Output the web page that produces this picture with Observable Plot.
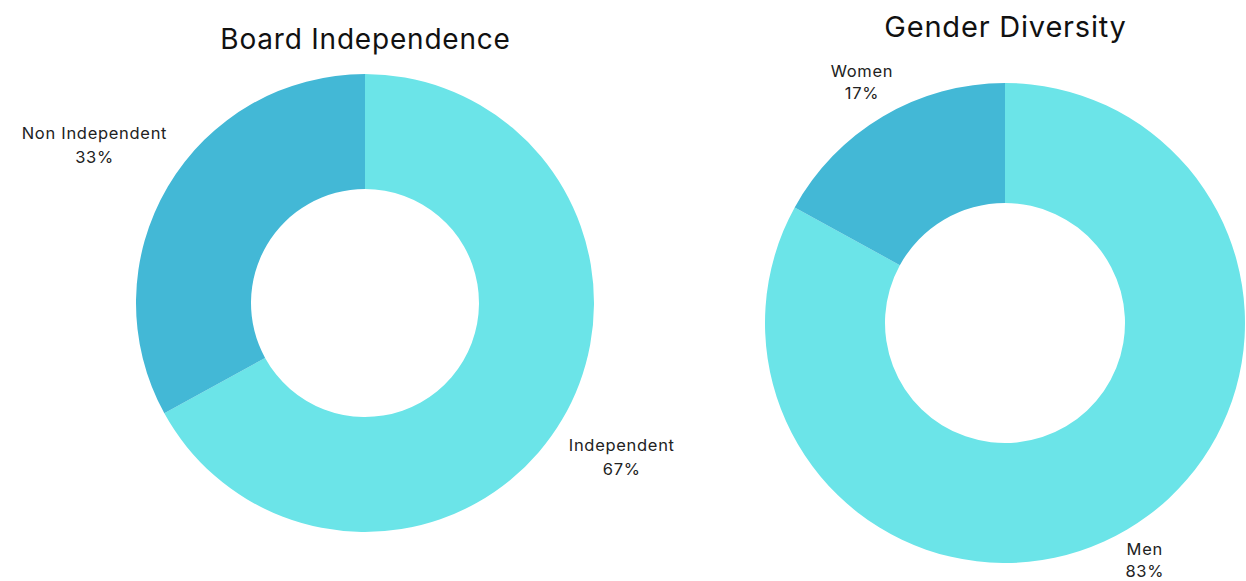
<!DOCTYPE html>
<html>
<head>
<meta charset="utf-8">
<script src="https://cdn.jsdelivr.net/npm/d3@7"></script>
<script src="https://cdn.jsdelivr.net/npm/@observablehq/plot@0.6"></script>
<style>
  html, body { margin: 0; padding: 0; background: #fff; }
  #chart svg { display: block; font-family: Inter, "Noto Sans", sans-serif; }
  #chart svg .lbl text { letter-spacing: 0.7px; }
  #chart svg .ttl text { letter-spacing: 0.8px; }
</style>
</head>
<body>
<div id="chart"></div>
<script>
// ---- data ----
const boardCategories = ["Independent", "Non Independent"];
const boardValues = [67, 33];
const genderCategories = ["Men", "Women"];
const genderValues = [83, 17];
const chartTitles = ["Board Independence", "Gender Diversity"];
const sliceColors = ["#6BE4E8", "#43B8D6"];

// ---- layout (pixels, in the x/y scale space) ----
const W = 1246, H = 581;
const charts = [
  {title: chartTitles[0], cats: boardCategories, vals: boardValues, cx: 365, cy: 303, r: 229, ir: 114, labelR: [1.30, 1.375], lh: 1.5, titleY: 40, titleSize: 28},
  {title: chartTitles[1], cats: genderCategories, vals: genderValues, cx: 1005, cy: 323, r: 240, ir: 120, labelR: [1.14, 1.175], lh: 1.35, titleY: 27, titleSize: 29}
];

const slices = [];
const labels = [];
const titles = [];
charts.forEach((c, ci) => {
  const total = d3.sum(c.vals);
  const pie = d3.pie().sort(null).value(d => d)(c.vals);
  pie.forEach((p, i) => {
    slices.push({chart: ci, cat: c.cats[i], start: p.startAngle, end: p.endAngle, color: sliceColors[i], cx: c.cx, cy: c.cy, r: c.r, ir: c.ir});
    const mid = (p.startAngle + p.endAngle) / 2;
    const lr = c.r * c.labelR[i];
    labels.push({chart: ci, lh: c.lh, x: c.cx + lr * Math.sin(mid), y: c.cy - lr * Math.cos(mid), text: `${c.cats[i]}\n${Math.round(c.vals[i] / total * 100)}%`});
  });
  titles.push({x: c.cx, y: c.titleY, text: c.title, size: c.titleSize});
});

function donutMark(index, scales) {
  const g = d3.create("svg:g");
  const kx = (scales.x(1) - scales.x(0));
  slices.forEach(s => {
    const arc = d3.arc().innerRadius(s.ir * kx).outerRadius(s.r * kx).startAngle(s.start).endAngle(s.end);
    g.append("path")
      .attr("transform", `translate(${scales.x(s.cx)},${scales.y(s.cy)})`)
      .attr("d", arc())
      .attr("fill", s.color);
  });
  return g.node();
}

const plot = Plot.plot({
  width: W,
  height: H,
  margin: 0,
  x: {domain: [0, W], range: [0, W], axis: null},
  y: {domain: [0, H], range: [0, H], axis: null},
  marks: [
    donutMark,
    ...charts.map((c, ci) => Plot.text(labels.filter(d => d.chart === ci), {x: "x", y: "y", text: "text", fontSize: 16.5, lineHeight: c.lh, fill: "#222", textAnchor: "middle", className: "lbl"})),
    ...titles.map(t => Plot.text([t], {x: "x", y: "y", text: "text", fontSize: t.size, fill: "#111", textAnchor: "middle", className: "ttl"}))
  ]
});
document.getElementById("chart").appendChild(plot);
</script>
</body>
</html>
